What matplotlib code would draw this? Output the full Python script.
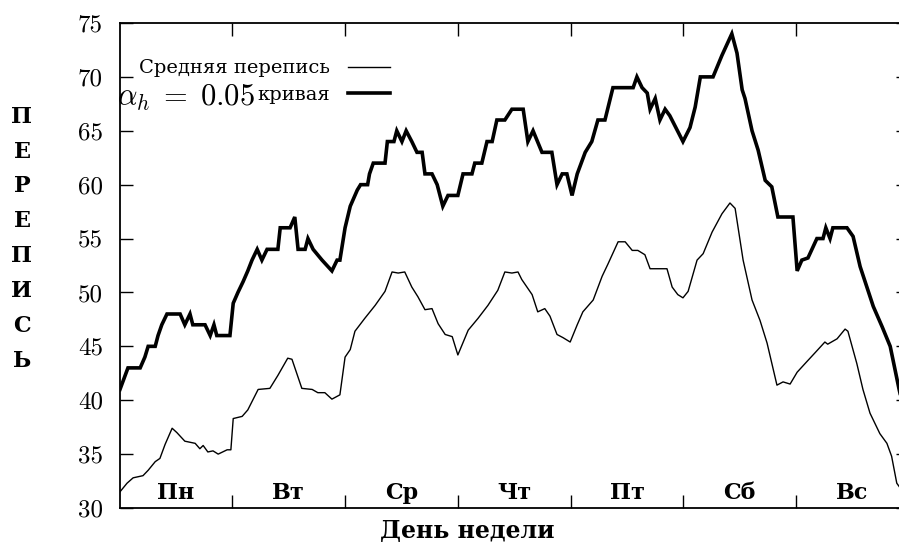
import matplotlib
matplotlib.use("Agg")
import matplotlib.pyplot as plt
from matplotlib.transforms import blended_transform_factory

plt.rcParams["mathtext.fontset"] = "cm"

# Hour of the week (0 = Monday 00:00) and census values
hours_alpha = [0.1, 1.8, 4.4, 5.4, 6.1, 7.6, 8.2, 9.0, 10.1, 12.9, 13.9, 15.0, 15.6, 18.2,
               19.3, 20.1, 20.7, 23.5, 24.2, 25.2, 26.3, 27.3, 28.2, 29.3, 30.3, 31.4, 33.7,
               34.2, 36.3, 37.3, 38.0, 39.5, 40.1, 41.2, 43.1, 45.2, 46.3, 46.9, 48.0, 49.1,
               50.6, 51.3, 52.8, 53.2, 54.0, 56.5, 57.0, 58.4, 59.0, 60.1, 61.0, 62.2, 63.3,
               64.4, 65.0, 66.5, 67.6, 68.8, 69.9, 72.0, 73.1, 75.0, 75.6, 77.1, 78.2, 79.3,
               80.3, 82.0, 83.5, 85.9, 86.9, 88.0, 89.9, 92.0, 93.1, 94.2, 95.2, 96.3, 97.4,
               99.1, 100.5, 101.8, 103.3, 105.0, 109.3, 110.1, 111.2, 112.3, 112.9, 114.0,
               115.0, 116.1, 117.1, 119.9, 121.4, 122.5, 123.6, 126.3, 128.2, 130.3, 131.4,
               132.5, 133.1, 134.6, 135.9, 137.4, 138.8, 140.1, 143.3, 144.2, 145.2, 146.5,
               148.4, 149.7, 150.3, 151.2, 151.8, 154.8, 156.1, 157.6, 160.4, 162.3, 164.0,
               165.9, 168.0]
census_alpha = [41, 43, 43, 44, 45, 45, 46, 47, 48, 48, 47, 48, 47, 47,
                46, 47, 46, 46, 49, 50, 51, 52, 53, 54, 53, 54, 54,
                56, 56, 57, 54, 54, 55, 54, 53, 52, 53, 53, 56, 58,
                59.5, 60, 60, 61, 62, 62, 64, 64, 65, 64, 65, 64, 63,
                63, 61, 61, 60, 58, 59, 59, 61, 61, 62, 62, 64, 64,
                66, 66, 67, 67, 64, 65, 63, 63, 60, 61, 61, 59, 61,
                63, 64, 66, 66, 69, 69, 70, 69, 68.5, 67, 68,
                66, 67, 66.4, 64, 65.3, 67.2, 70, 70, 72, 74, 72.2,
                68.8, 68, 65, 63.2, 60.4, 59.8, 57, 57, 52, 53, 53.2,
                55, 55, 56, 55, 56, 56, 55.2, 52.4, 48.7, 46.8, 45,
                41, 37]

hours_mean = [0.1, 1.6, 2.9, 5.0, 6.1, 7.6, 8.6, 9.7, 11.2, 12.2, 13.9, 16.1, 17.1, 17.8,
              18.8, 19.9, 21.0, 22.9, 23.7, 24.2, 26.1, 27.3, 29.5, 32.0, 33.7, 35.8, 36.7,
              38.8, 41.0, 42.2, 43.7, 45.2, 46.9, 48.0, 49.1, 50.1, 52.2, 54.4, 56.5, 58.0,
              59.3, 60.7, 62.2, 63.5, 65.0, 66.5, 67.8, 69.3, 70.8, 72.0, 74.2, 76.3, 78.4,
              80.5, 82.0, 83.5, 84.8, 85.6, 87.8, 89.0, 90.5, 91.6, 93.1, 94.4, 95.9, 97.4,
              98.6, 100.8, 102.7, 103.9, 106.1, 107.6, 109.1, 110.3, 111.8, 112.9, 116.5,
              117.6, 118.8, 119.9, 121.0, 122.9, 124.2, 126.1, 128.2, 129.9, 131.0, 132.7,
              134.6, 136.3, 137.8, 139.9, 141.2, 142.7, 144.2, 146.3, 148.0, 150.1, 150.7,
              152.7, 154.4, 155.0, 156.9, 158.2, 159.7, 161.8, 163.3, 164.3, 165.4, 165.9,
              168.0]
census_mean = [31.5, 32.3, 32.8, 33.0, 33.5, 34.3, 34.6, 35.9, 37.4, 37.0, 36.2, 36.0, 35.5, 35.8,
               35.2, 35.3, 35.0, 35.4, 35.4, 38.3, 38.5, 39.1, 41.0, 41.1, 42.3, 43.9, 43.8,
               41.1, 41.0, 40.7, 40.7, 40.1, 40.5, 44.0, 44.7, 46.4, 47.6, 48.8, 50.1, 51.9,
               51.8, 51.9, 50.5, 49.6, 48.4, 48.5, 47.1, 46.1, 45.9, 44.2, 46.5, 47.6, 48.8,
               50.2, 51.9, 51.8, 51.9, 51.2, 49.8, 48.2, 48.5, 47.8, 46.1, 45.8, 45.4, 47.0,
               48.2, 49.3, 51.5, 52.6, 54.7, 54.7, 53.9, 53.9, 53.5, 52.2, 52.2,
               50.5, 49.8, 49.5, 50.1, 53.0, 53.6, 55.6, 57.3, 58.3, 57.8, 53.0,
               49.3, 47.4, 45.3, 41.4, 41.7, 41.5, 42.6, 43.6, 44.4, 45.4, 45.2,
               45.7, 46.6, 46.4, 43.4, 41.0, 38.8, 36.9, 36.0, 34.8, 32.3, 32.0,
               30.5]

day_names = ["Пн", "Вт", "Ср", "Чт", "Пт", "Сб", "Вс"]
census_ticks = [30, 35, 40, 45, 50, 55, 60, 65, 70, 75]

serif = ["DejaVu Serif"]

fig = plt.figure(figsize=(8.99, 5.44), dpi=100)
ax = fig.add_axes([119.5 / 899, 36 / 544, 789.5 / 899, 485 / 544])

line_mean, = ax.plot(hours_mean, census_mean, color="black", lw=1.0)
line_alpha, = ax.plot(hours_alpha, census_alpha, color="black", lw=2.6,
                      solid_joinstyle="miter")

ax.set_xlim(0, 168)
ax.set_ylim(30, 75)
ax.set_xticks(range(24, 168, 24))
ax.set_xticklabels([])
ax.set_yticks(census_ticks)
ax.set_yticklabels([str(v) for v in census_ticks], fontfamily="cmr10", fontsize=18)
ax.tick_params(direction="in", length=9.5, width=1.0, top=True, right=True, pad=12)
for spine in ax.spines.values():
    spine.set_linewidth(1.3)

# Day names inside the plot, centred on each day
trans = blended_transform_factory(ax.transData, ax.transAxes)
for i, name in enumerate(day_names):
    ax.text(12 + 24 * i, 0.009, name, transform=trans, ha="center", va="bottom",
            fontfamily=serif, fontweight="bold", fontsize=16)

# Key: labels right-justified before their line samples
leg = ax.legend([line_mean, line_alpha], ["Средняя перепись", "кривая"],
                loc="upper right", bbox_to_anchor=(0.343, 0.925), frameon=False,
                markerfirst=False, handlelength=2.2, handletextpad=0.9,
                labelspacing=0.45, borderpad=0, borderaxespad=0,
                prop={"family": serif, "size": 14})
ax.text(0.171, 0.829, r"$\alpha_h\;=\;0.05$", transform=ax.transAxes, ha="right",
        va="baseline", fontsize=22)

ax.set_xlabel("День недели", fontfamily=serif, fontweight="bold", fontsize=17,
              va="baseline")
ax.xaxis.set_label_coords(0.4408, -0.062)
ax.set_ylabel("\n".join("ПЕРЕПИСЬ"), rotation=0, fontfamily=serif,
              fontweight="bold", fontsize=16, linespacing=1.76, va="center", ha="center")
ax.yaxis.set_label_coords(-0.1235, 0.555)

fig.savefig("out.png", dpi=100)
